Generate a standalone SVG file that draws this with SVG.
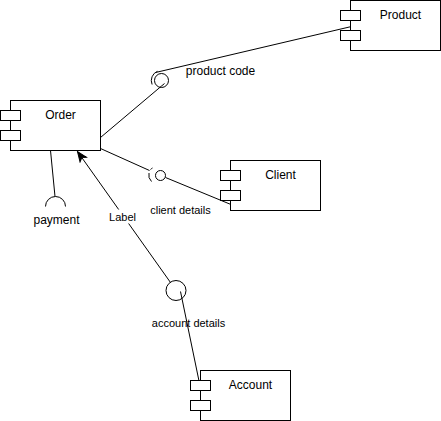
<svg xmlns="http://www.w3.org/2000/svg" width="441" height="421" viewBox="0 0 441 421">
<defs>
<style>
.box{fill:#fff;stroke:#000;stroke-width:1}
.port{fill:#fff;stroke:#000;stroke-width:1}
.ln{fill:none;stroke:#000;stroke-width:1}
.lbl{font-family:"Liberation Sans",Arial,sans-serif;font-size:12px;fill:#000;text-anchor:middle}
.elbl{font-family:"Liberation Sans",Arial,sans-serif;font-size:11px;fill:#000;text-anchor:middle}
</style>
<marker id="arr" markerUnits="userSpaceOnUse" markerWidth="12" markerHeight="10" viewBox="0 0 12 10" refX="11" refY="5" orient="auto">
<path d="M1,1 L11,5 L1,9 L3.5,5 Z" fill="#000" stroke="#000" stroke-width="1"/>
</marker>
</defs>
<rect width="441" height="421" fill="#fff"/>
<g id="connectors" transform="translate(0.5,0.5)">
<line class="ln" x1="100" y1="137" x2="164" y2="83"/>
<line class="ln" x1="155" y1="72" x2="351" y2="26"/>
<line class="ln" x1="100" y1="148" x2="149" y2="170"/>
<line class="ln" x1="165" y1="177" x2="245" y2="210"/>
<line class="ln" x1="50" y1="150" x2="54.5" y2="196"/>
<line class="ln" x1="170" y1="282" x2="77" y2="151" marker-end="url(#arr)"/>
<line class="ln" x1="180" y1="291" x2="201.5" y2="395"/>
<rect x="108" y="209" width="28" height="14" fill="#fff"/>
<text class="elbl" x="122" y="220">Label</text>
</g>
<g id="iface-product-code" transform="translate(0.5,0.5)">
<circle class="ln" cx="161" cy="80" r="7"/>
<path class="ln" d="M151.6,84 A10,10 0 0 1 157,70.8"/>
<text class="lbl" x="220" y="74">product code</text>
</g>
<g id="iface-client-details" transform="translate(0.5,0.5)">
<circle class="ln" cx="160" cy="175" r="5"/>
<path class="ln" d="M151,181 A9,9 0 0 1 148.5,172.5"/>
<path class="ln" d="M150,169 A9,9 0 0 1 152,167.5"/>
<text class="elbl" x="180" y="213">client details</text>
</g>
<g id="iface-payment" transform="translate(0.5,0.5)">
<path class="ln" d="M45,206 A10,10 0 0 1 65,206"/>
<text class="lbl" x="56" y="223">payment</text>
</g>
<g id="iface-account-details" transform="translate(0.5,0.5)">
<circle class="ln" cx="175.5" cy="290" r="10"/>
<text class="elbl" x="188" y="326">account details</text>
</g>
<g id="order" transform="translate(0.5,0.5)">
<rect class="box" x="10" y="100" width="90" height="50"/>
<rect class="port" x="0" y="110" width="20" height="10"/>
<rect class="port" x="0" y="130" width="20" height="10"/>
<text class="lbl" x="60" y="118">Order</text>
</g>
<g id="product" transform="translate(0.5,0.5)">
<rect class="box" x="350" y="0" width="90" height="50"/>
<rect class="port" x="340" y="10" width="20" height="10"/>
<rect class="port" x="340" y="30" width="20" height="10"/>
<text class="lbl" x="400" y="18">Product</text>
</g>
<g id="client" transform="translate(0.5,0.5)">
<rect class="box" x="230" y="160" width="90" height="50"/>
<rect class="port" x="220" y="170" width="20" height="10"/>
<rect class="port" x="220" y="190" width="20" height="10"/>
<text class="lbl" x="280" y="178">Client</text>
</g>
<g id="account" transform="translate(0.5,0.5)">
<rect class="box" x="200" y="370" width="90" height="50"/>
<rect class="port" x="190" y="380" width="20" height="10"/>
<rect class="port" x="190" y="400" width="20" height="10"/>
<text class="lbl" x="250" y="388">Account</text>
</g>
</svg>
